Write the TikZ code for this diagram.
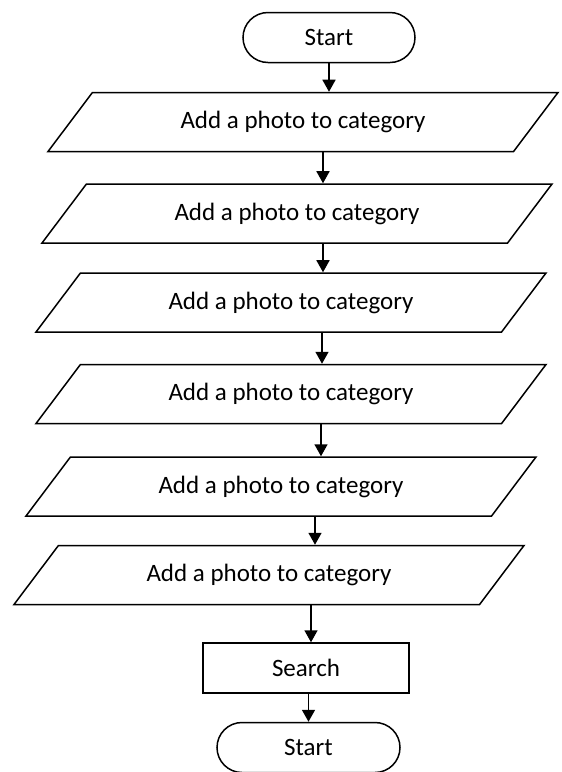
\documentclass[tikz,border=0pt]{standalone}
\usepackage{fontspec}
\setmainfont{Carlito}
\usetikzlibrary{shapes.geometric,shapes.misc,arrows.meta}

\begin{document}
\begin{tikzpicture}
[x=1pt,y=-1pt,%
  every node/.style={draw,line width=1.5pt,inner sep=2pt},%
  terminal/.style={rounded rectangle,minimum height=50pt},%
  io/.style={trapezium,trapezium left angle=30,trapezium right angle=150,%
    trapezium stretches body,minimum width=510pt,minimum height=59pt},%
  process/.style={rectangle,minimum width=206pt,minimum height=50pt},%
  flow/.style={-{Triangle[width=13pt,length=12pt]},line width=1.6pt}]
\fontsize{25}{29}\selectfont
\useasboundingbox (0,0) rectangle (562,772);
\node[terminal,minimum width=176pt] (start) at (329,37.5) {Start};
\node[io] (p1) at (303,122) {Add a photo to category};
\node[io] (p2) at (297,213.5) {Add a photo to category};
\node[io] (p3) at (291,302.5) {Add a photo to category};
\node[io] (p4) at (291,394) {Add a photo to category};
\node[io] (p5) at (281,486.5) {Add a photo to category};
\node[io] (p6) at (269,575) {Add a photo to category};
\node[process] (search) at (306,668) {Search};
\node[terminal,minimum width=187pt] (finish) at (308.5,747.5) {Start};
\draw[flow] (start.south) -- (start.south |- p1.north);
\draw[flow] (p1.south -| 323,0) -- (p2.north -| 323,0);
\draw[flow] (p2.south -| 323,0) -- (p3.north -| 323,0);
\draw[flow] (p3.south -| 322,0) -- (p4.north -| 322,0);
\draw[flow] (p4.south -| 321,0) -- (p5.north -| 321,0);
\draw[flow] (p5.south -| 315,0) -- (p6.north -| 315,0);
\draw[flow] (p6.south -| 311,0) -- (search.north -| 311,0);
\draw[flow] (search.south -| finish) -- (finish.north);
\end{tikzpicture}
\end{document}
